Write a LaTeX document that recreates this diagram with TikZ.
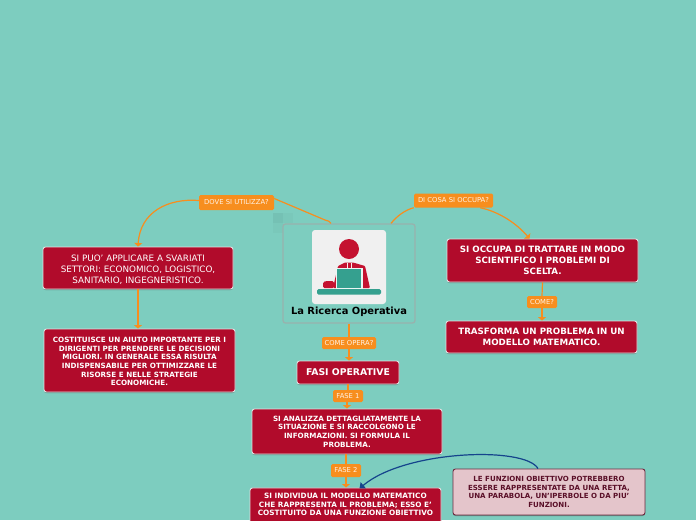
\documentclass[tikz,border=0pt]{standalone}
\usepackage{fontspec}
\setmainfont{DejaVu Sans}
\usetikzlibrary{arrows.meta,shadows}
\definecolor{bgc}{HTML}{7DCDBF}
\definecolor{redb}{HTML}{B10B2B}
\definecolor{orangel}{HTML}{F78E1E}
\definecolor{pinkb}{HTML}{E4C5CB}
\definecolor{maroon}{HTML}{5A0F28}
\definecolor{tealc}{HTML}{35A08F}
\definecolor{iconred}{HTML}{C41230}
\definecolor{navyl}{HTML}{15448C}
\definecolor{cborder}{HTML}{98B2AD}
\tikzset{
  box/.style={draw=white!88!black,line width=.9pt,fill=redb,rounded corners=2.5pt,inner sep=0pt,
    text=white,align=center,font=\bfseries\fontsize{7.2}{8.6}\selectfont,
    drop shadow={shadow xshift=0pt,shadow yshift=-1pt,opacity=.3,fill=black}},
  bigbox/.style={box,font=\bfseries\fontsize{8.7}{11}\selectfont},
  plainbox/.style={box,font=\fontsize{8.8}{11}\selectfont},
  notebox/.style={box,draw=maroon!85!pinkb,fill=pinkb,text=maroon,font=\bfseries\fontsize{7.05}{8.6}\selectfont},
  lab/.style={fill=orangel,rounded corners=1.5pt,inner sep=0pt,text=white!90!orange,font=\fontsize{6.8}{8}\selectfont},
  conn/.style={draw=orangel,line width=1.2pt},
  arr/.style={conn,-{Triangle[width=8pt,length=3.5pt]}},
  narr/.style={draw=navyl,line width=1.2pt,-{Triangle[width=8pt,length=5pt]}}
}
\begin{document}
\begin{tikzpicture}[x=1pt,y=-1pt]
\useasboundingbox (0,0) rectangle (696,520);
\clip (0,0) rectangle (696,520);
\fill[bgc] (0,0) rectangle (696,520);
% faint squares behind the central topic
\fill[black!40!bgc,opacity=.14] (273,213) rectangle (283,223);
\fill[black!40!bgc,opacity=.06] (283,213) rectangle (293,223);
\fill[black!40!bgc,opacity=.06] (273,223) rectangle (283,233);
% central topic
\node[draw=cborder,line width=1.3pt,rounded corners=2.5pt,minimum width=132pt,minimum height=99pt,inner sep=0pt] (c) at (349,273.5) {};
\node[fill=white!94!black,rounded corners=3pt,minimum width=74pt,minimum height=74pt,inner sep=0pt] (iconbg) at (349,267) {};
\fill[iconred] (349,249) circle (10);
\fill[iconred,rounded corners=1pt] (333,288) -- (338,266) -- (345,262.5) -- (353,262.5) -- (365,266) -- (370,288) -- cycle;
\fill[iconred,rounded corners=1.5pt] (323,288) -- (323,282) -- (326,281) -- (334,281) -- (334,288) -- cycle;
\draw[white!90!iconred,line width=.5pt] (347,262.5) -- (347,268) (351,262.5) -- (351,268);
\fill[white!90!tealc] (335.5,267.5) rectangle (362.5,289);
\fill[tealc] (337,269) rectangle (361,288);
\fill[tealc,rounded corners=1.5pt] (317,289) rectangle (381,294.5);
\node[font=\bfseries\fontsize{9.9}{11}\selectfont,text=black] (title) at (349,312) {La Ricerca Operativa};
% boxes
\node[plainbox,minimum width=190pt,minimum height=42pt] (l1) at (138,268) {\rule{0pt}{9.5pt}SI PUO' APPLICARE A SVARIATI\\SETTORI: ECONOMICO, LOGISTICO,\\SANITARIO, INGEGNERISTICO.};
\node[box,minimum width=191pt,minimum height=63pt] (l2) at (139.5,360.5) {\rule{0pt}{7.5pt}COSTITUISCE UN AIUTO IMPORTANTE PER I\\DIRIGENTI PER PRENDERE LE DECISIONI\\MIGLIORI. IN GENERALE ESSA RISULTA\\INDISPENSABILE PER OTTIMIZZARE LE\\RISORSE E NELLE STRATEGIE\\ECONOMICHE.};
\node[bigbox,minimum width=191pt,minimum height=43pt] (r1) at (542.5,260.5) {SI OCCUPA DI TRATTARE IN MODO\\SCIENTIFICO I PROBLEMI DI\\SCELTA.};
\node[bigbox,minimum width=191pt,minimum height=32pt] (r2) at (541.5,337) {TRASFORMA UN PROBLEMA IN UN\\MODELLO MATEMATICO.};
\node[bigbox,font=\bfseries\fontsize{9.3}{10}\selectfont,minimum width=102pt,minimum height=23pt] (fasi) at (348,372.5) {FASI OPERATIVE};
\node[box,minimum width=190pt,minimum height=45pt] (f1) at (347,431.5) {SI ANALIZZA DETTAGLIATAMENTE LA\\SITUAZIONE E SI RACCOLGONO LE\\INFORMAZIONI. SI FORMULA IL\\PROBLEMA.};
\node[box,minimum width=191pt,minimum height=50pt,anchor=north] (f2) at (345.5,487.5) {};
\node[font=\bfseries\fontsize{7.3}{8.6}\selectfont,text=white,align=center,anchor=north,inner sep=0pt] (f2t) at (345.5,493) {SI INDIVIDUA IL MODELLO MATEMATICO\\CHE RAPPRESENTA IL PROBLEMA; ESSO E'\\COSTITUITO DA UNA FUNZIONE OBIETTIVO};
\node[notebox,minimum width=192pt,minimum height=46pt] (n) at (549,492) {LE FUNZIONI OBIETTIVO POTREBBERO\\ESSERE RAPPRESENTATE DA UNA RETTA,\\UNA PARABOLA, UN'IPERBOLE O DA PIU'\\FUNZIONI.};
% labels
\node[lab,minimum width=75pt,minimum height=15pt] (ld) at (236.5,202.5) {DOVE SI UTILIZZA?};
\node[lab,minimum width=79pt,minimum height=14pt] (lc) at (453.5,200.5) {DI COSA SI OCCUPA?};
\node[lab,minimum width=54pt,minimum height=12pt] (lo) at (349,343) {COME OPERA?};
\node[lab,minimum width=30pt,minimum height=12pt] (lm) at (542,302) {COME?};
\node[lab,minimum width=30pt,minimum height=12pt] (l1f) at (348,396) {FASE 1};
\node[lab,minimum width=30pt,minimum height=13pt] (l2f) at (346,470.5) {FASE 2};
% connectors
\draw[conn] ([xshift=-18pt]c.north) .. controls (330,221) and (328,221) .. (325,220) -- ([yshift=4pt]ld.east);
\draw[arr] ([yshift=2pt]ld.west) .. controls (168,198) and (140,212) .. (l1.north);
\draw[conn] ([xshift=42pt]c.north) .. controls (397,216) and (405,210) .. (lc.south west);
\draw[arr] ([xshift=-13pt]lc.south east) .. controls (500,212) and (517,224) .. ([xshift=-13pt]r1.north);
\draw[arr] (l1.south) -- (l2.north -| l1.south);
\draw[conn] (r1.south) -- (lm.north);
\draw[arr] (lm.south) -- (lm.south |- r2.north);
\draw[conn] (c.south) -- (lo.north);
\draw[arr] (lo.south) -- (lo.south |- fasi.north);
\draw[conn] (fasi.south) -- (fasi.south |- l1f.north);
\draw[arr] ([xshift=-1pt]l1f.south) -- ([xshift=-1pt]l1f.south |- f1.north);
\draw[conn] (f1.south -| l2f.north) -- (l2f.north);
\draw[arr] (l2f.south) -- (l2f.south |- f2.north);
\draw[narr] ([xshift=-11pt]n.north) .. controls (525,446) and (405,450) .. ([xshift=14pt,yshift=-1pt]f2.north);
\end{tikzpicture}
\end{document}
